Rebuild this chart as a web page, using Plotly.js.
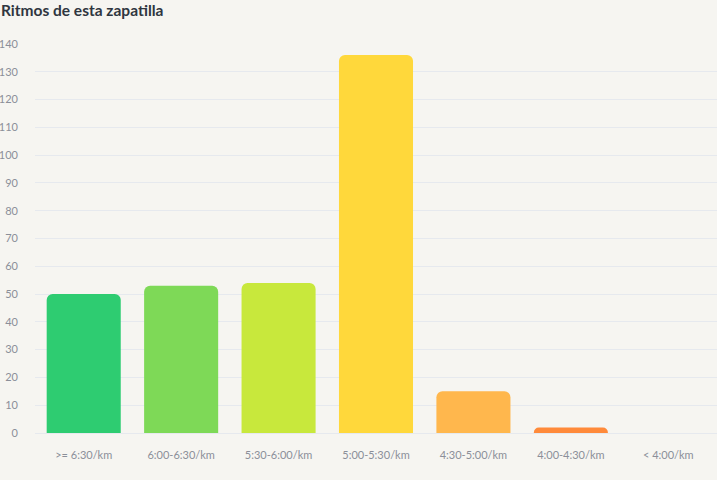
<!DOCTYPE html>
<html>
<head>
<meta charset="utf-8">
<script src="https://cdn.plot.ly/plotly-3.0.1.min.js"></script>
<style>
    html, body { margin: 0; padding: 0; background: #f6f5f1; }
    #plotly__graph { width: 717px; height: 480px; }
</style>
</head>
<body>
<div id="plotly__graph"></div>
<script>
// **********************************************************************************************
// DATA

const paces = ['>= 6:30/km', '6:00-6:30/km', '5:30-6:00/km', '5:00-5:30/km', '4:30-5:00/km', '4:00-4:30/km', '< 4:00/km'];
const counts = [50, 53, 54, 136, 15, 2, 0];
const pace_colors = ['#2ecc71', '#7ed957', '#c8e83c', '#ffd83b', '#ffb74d', '#ff8a3a', '#e74c3c'];
const y_ticks = [0, 10, 20, 30, 40, 50, 60, 70, 80, 90, 100, 110, 120, 130, 140];

const plotly_graph = () => {
    const div = document.getElementById('plotly__graph');

    let trace = {
        type: 'bar',
        x: paces,
        y: counts,
        width: 0.76,
        marker: {
            color: pace_colors,
            cornerradius: 6
        },
        hoverinfo: 'x+y'
    };

    // **********************************************************************************************
    // LAYOUT

    let layout = {
        width: 717,
        height: 480,
        paper_bgcolor: '#f6f5f1',
        plot_bgcolor: '#f6f5f1',
        margin: { t: 44, r: 0, b: 47, l: 35, pad: 0 },
        showlegend: false,
        dragmode: false,
        font: { family: 'Lato, "Noto Sans", sans-serif', size: 11, color: '#8b8f99' },
        title: {
            text: 'Ritmos de esta zapatilla',
            x: 0, xref: 'paper', xanchor: 'left',
            y: 0.998, yref: 'container', yanchor: 'top',
            pad: { t: 4, l: -34 },
            font: { family: 'Lato, "Noto Sans", sans-serif', size: 15.5, weight: 700, color: '#2f3640' }
        },
        xaxis: {
            type: 'category',
            showgrid: false,
            zeroline: false,
            showline: false,
            ticks: '',
            ticklabelstandoff: 14,
            tickfont: { size: 11, color: '#8b8f99' }
        },
        yaxis: {
            range: [0, 140],
            tickvals: y_ticks,
            showgrid: true,
            gridcolor: '#e6e9ee',
            gridwidth: 1,
            zeroline: true,
            zerolinecolor: '#e6e9ee',
            zerolinewidth: 1,
            showline: false,
            ticks: '',
            ticklabelstandoff: 16,
            tickfont: { size: 11, color: '#8b8f99' }
        }
    };

    const config = { responsive: false, displaylogo: false, displayModeBar: false, staticPlot: true };

    Plotly.newPlot(div, [trace], layout, config);
};

plotly_graph();
</script>
</body>
</html>
